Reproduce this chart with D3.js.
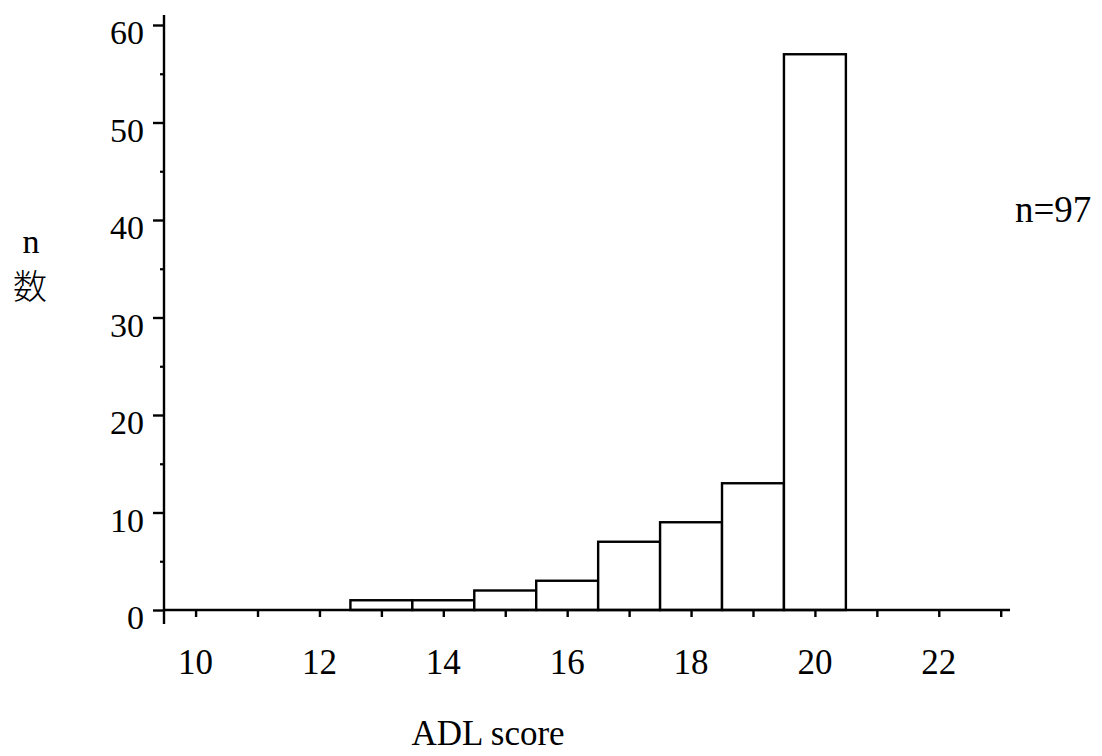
<!DOCTYPE html>
<html>
<head>
<meta charset="utf-8">
<script src="https://cdn.jsdelivr.net/npm/d3@7"></script>
<style>
  html, body { margin: 0; padding: 0; background: #fff; }
  svg { display: block; }
  text { font-family: "Liberation Serif", "Times New Roman", serif; fill: #000; }
</style>
</head>
<body>
<svg id="chart" width="1102" height="756"></svg>
<script>
// ---- data ----
const binCenters = [10, 11, 12, 13, 14, 15, 16, 17, 18, 19, 20, 21, 22];
const counts     = [0, 0, 0, 1, 1, 2, 3, 7, 9, 13, 57, 0, 0];
const xTickLabels = [10, 12, 14, 16, 18, 20, 22];
const yTickLabels = [0, 10, 20, 30, 40, 50, 60];
const xTitle = "ADL score";
const yTitleLines = ["n", "数"];
const noteText = "n=97";

// ---- layout ----
const svg = d3.select("#chart");
const x = d3.scaleLinear().domain([9.49, 23.15]).range([164, 1010]);
const y = d3.scaleLinear().domain([0, 60]).range([610, 25]);

const g = svg.append("g");

// bars (only non-zero)
g.selectAll("rect.bar")
  .data(binCenters.map((c, i) => ({c, v: counts[i]})).filter(d => d.v > 0))
  .enter().append("rect")
  .attr("class", "bar")
  .attr("x", d => x(d.c - 0.5))
  .attr("width", d => x(d.c + 0.5) - x(d.c - 0.5))
  .attr("y", d => y(d.v))
  .attr("height", d => y(0) - y(d.v))
  .attr("fill", "#fff")
  .attr("stroke", "#000")
  .attr("stroke-width", 2.4);

// x axis
const xAxis = d3.axisBottom(x)
  .tickValues(d3.range(10, 24, 1))
  .tickSize(7)
  .tickFormat("");
const gx = g.append("g").attr("transform", `translate(0,${y(0)})`).call(xAxis);
gx.select(".domain").attr("d", `M${x.range()[0]},0H${x.range()[1]}`).attr("stroke-width", 2.4);
gx.selectAll(".tick line").attr("stroke-width", 2.4);

// x tick labels
g.selectAll("text.xl").data(xTickLabels).enter().append("text")
  .attr("class", "xl")
  .attr("x", d => x(d))
  .attr("y", 674)
  .attr("text-anchor", "middle")
  .style("font-size", "35px")
  .text(d => d);

// y axis
const yAxis = d3.axisLeft(y)
  .tickValues(yTickLabels)
  .tickSize(11)
  .tickFormat("");
const gy = g.append("g").attr("transform", `translate(${x.range()[0]},0)`).call(yAxis);
gy.select(".domain").attr("d", `M0,${y(0) + 14}V${y(60) - 10}`).attr("stroke-width", 2.4);
gy.selectAll(".tick line").attr("stroke-width", 2.4);
// minor y ticks
const yMinor = d3.axisLeft(y).tickValues(d3.range(5, 60, 10)).tickSize(4).tickFormat("");
const gym = g.append("g").attr("transform", `translate(${x.range()[0]},0)`).call(yMinor);
gym.select(".domain").remove();
gym.selectAll(".tick line").attr("stroke-width", 2.2);

// y tick labels
g.selectAll("text.yl").data(yTickLabels).enter().append("text")
  .attr("class", "yl")
  .attr("x", 144)
  .attr("y", d => y(d) + 19)
  .attr("text-anchor", "end")
  .style("font-size", "34px")
  .text(d => d);

// axis titles
svg.append("text")
  .attr("x", 488).attr("y", 745)
  .attr("text-anchor", "middle")
  .style("font-size", "35px")
  .text(xTitle);

svg.append("text")
  .attr("x", 31).attr("y", 253)
  .attr("text-anchor", "middle")
  .style("font-size", "34px")
  .text(yTitleLines[0]);
svg.append("text")
  .attr("x", 30).attr("y", 299)
  .attr("text-anchor", "middle")
  .style("font-size", "34px")
  .style("font-family", "'Noto Sans CJK JP', 'Noto Sans CJK SC', sans-serif")
  .style("font-weight", "300")
  .text(yTitleLines[1]);

// note
svg.append("text")
  .attr("x", 1015).attr("y", 222)
  .attr("text-anchor", "start")
  .style("font-size", "37px")
  .text(noteText);
</script>
</body>
</html>
